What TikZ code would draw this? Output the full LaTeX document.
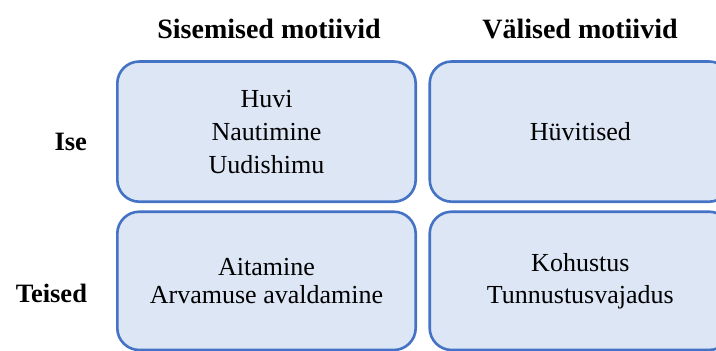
\documentclass[tikz,border=0pt]{standalone}
\usepackage{fontspec}
\setmainfont{Liberation Serif}
\definecolor{boxfill}{HTML}{DCE6F4}
\definecolor{boxline}{HTML}{4472C4}
\begin{document}
\begin{tikzpicture}[x=1pt,y=-1pt,
  cell/.style={draw=boxline, fill=boxfill, line width=2.6pt, rounded corners=22pt, inner sep=0pt, align=center},
  txt/.style={font=\fontsize{26}{#1}\selectfont},
  head/.style={font=\bfseries\fontsize{28}{30}\selectfont, anchor=base},
  rowlab/.style={font=\bfseries\fontsize{26.5}{30}\selectfont, anchor=base east}]
\useasboundingbox (0,0) rectangle (716,351);
\clip (0,0) rectangle (716,351);
\node[cell, txt=33, minimum width=298.4pt, minimum height=140.2pt] (tl) at (266.5,131.6) {Huvi\\Nautimine\\Uudishimu};
\node[cell, txt=33, minimum width=301.3pt, minimum height=140.2pt] (tr) at (580.35,131.6) {Hüvitised};
\node[cell, txt=28, minimum width=298.4pt, minimum height=138.3pt] (bl) at (266.5,280.85) {Aitamine\\Arvamuse avaldamine};
\node[cell, txt=32, minimum width=301.3pt, minimum height=138.3pt] (br) at (580.35,280.85) {Kohustus\\Tunnustusvajadus};
\node[head] (h1) at (269,38) {Sisemised motiivid};
\node[head] (h2) at (580,38) {Välised motiivid};
\node[rowlab] (r1) at (90.5,150) {Ise};
\node[rowlab] (r2) at (90.5,302) {Teised};
\end{tikzpicture}
\end{document}
